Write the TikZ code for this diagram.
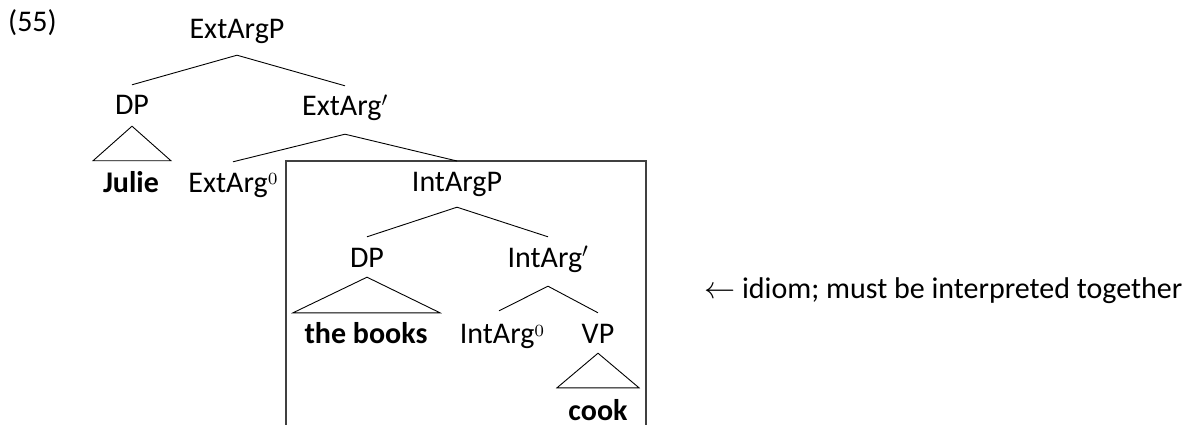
\documentclass[tikz,border=0pt]{standalone}
\usepackage{fontspec}
\usepackage{graphicx}
\setmainfont{Carlito}
\newfontfamily\lmfont{Latin Modern Roman}
\usetikzlibrary{calc}
\newcommand{\supzero}{\raisebox{7pt}{\scalebox{2.45}{\lmfont\fontsize{7}{7}\selectfont 0}}}
\begin{document}
\begin{tikzpicture}[x=1pt,y=-1pt,
  lab/.style={font=\fontsize{30}{36}\selectfont, anchor=base, inner xsep=0pt, inner ysep=9pt, text height=21pt, text depth=7pt},
  blab/.style={lab, font=\fontsize{30}{36}\selectfont\bfseries},
  branch/.style={line width=0.9pt, black},
  boxline/.style={line width=1.1pt, black!75}]
\useasboundingbox (0,0) rectangle (1202,425);
% example number
\node[lab, anchor=base west] (num) at (8,32) {(55)};
% top tree
\node[lab] (ExtArgP) at (237,39) {ExtArgP};
\node[lab] (DPa) at (132,115) {DP};
\node[lab] (ExtArgBar) at (345,116) {ExtArg$'$};
\node[blab] (Julie) at (131,192) {Julie};
\node[lab] (ExtArgZero) at (233,192) {ExtArg\supzero};
% box
\coordinate (boxBL) at (286,425);
\coordinate (boxTL) at (286,161);
\coordinate (boxTR) at (646,161);
\coordinate (boxBR) at (646,425);
\draw[boxline] (boxBL) -- (boxTL) -- (boxTR) -- (boxBR);
% inner tree
\node[lab] (IntArgP) at (457,191) {IntArgP};
\node[lab] (DPb) at (367,267) {DP};
\node[lab] (IntArgBar) at (548,267) {IntArg$'$};
\node[blab] (books) at (366,343) {the books};
\node[lab] (IntArgZero) at (502,343) {IntArg\supzero};
\node[lab] (VP) at (598,343) {VP};
\node[blab, inner ysep=0pt, text depth=0pt] (cook) at (598,420) {cook};
% annotation
\node[lab, anchor=base west] (note) at (704,298) {\scalebox{1.25}{$\leftarrow$} idiom; must be interpreted together};
% branches
\draw[branch] (ExtArgP.south) -- (DPa.north);
\draw[branch] (ExtArgP.south) -- (ExtArgBar.north);
\draw[branch] ([yshift=-2pt]ExtArgBar.south) -- (ExtArgZero.north);
\draw[branch] ([yshift=-2pt]ExtArgBar.south) -- (IntArgP |- boxTL);
\draw[branch] ([yshift=5pt]DPa.south) -- ($(Julie.north)+(-38,-1)$) -- ($(Julie.north)+(40,-1)$) -- cycle;
\draw[branch] (IntArgP.south) -- (DPb.north);
\draw[branch] (IntArgP.south) -- (IntArgBar.north);
\draw[branch] ([yshift=6pt]DPb.south) -- ($(books.north)+(-73,0)$) -- ($(books.north)+(74,0)$) -- cycle;
\draw[branch] ([yshift=-3pt]IntArgBar.south) -- ([xshift=-3pt,yshift=2pt]IntArgZero.north);
\draw[branch] ([yshift=-3pt]IntArgBar.south) -- (VP.north);
\draw[branch] ([yshift=6pt]VP.south) -- ($(cook.north)+(-41,-11)$) -- ($(cook.north)+(41,-11)$) -- cycle;
\end{tikzpicture}
\end{document}
